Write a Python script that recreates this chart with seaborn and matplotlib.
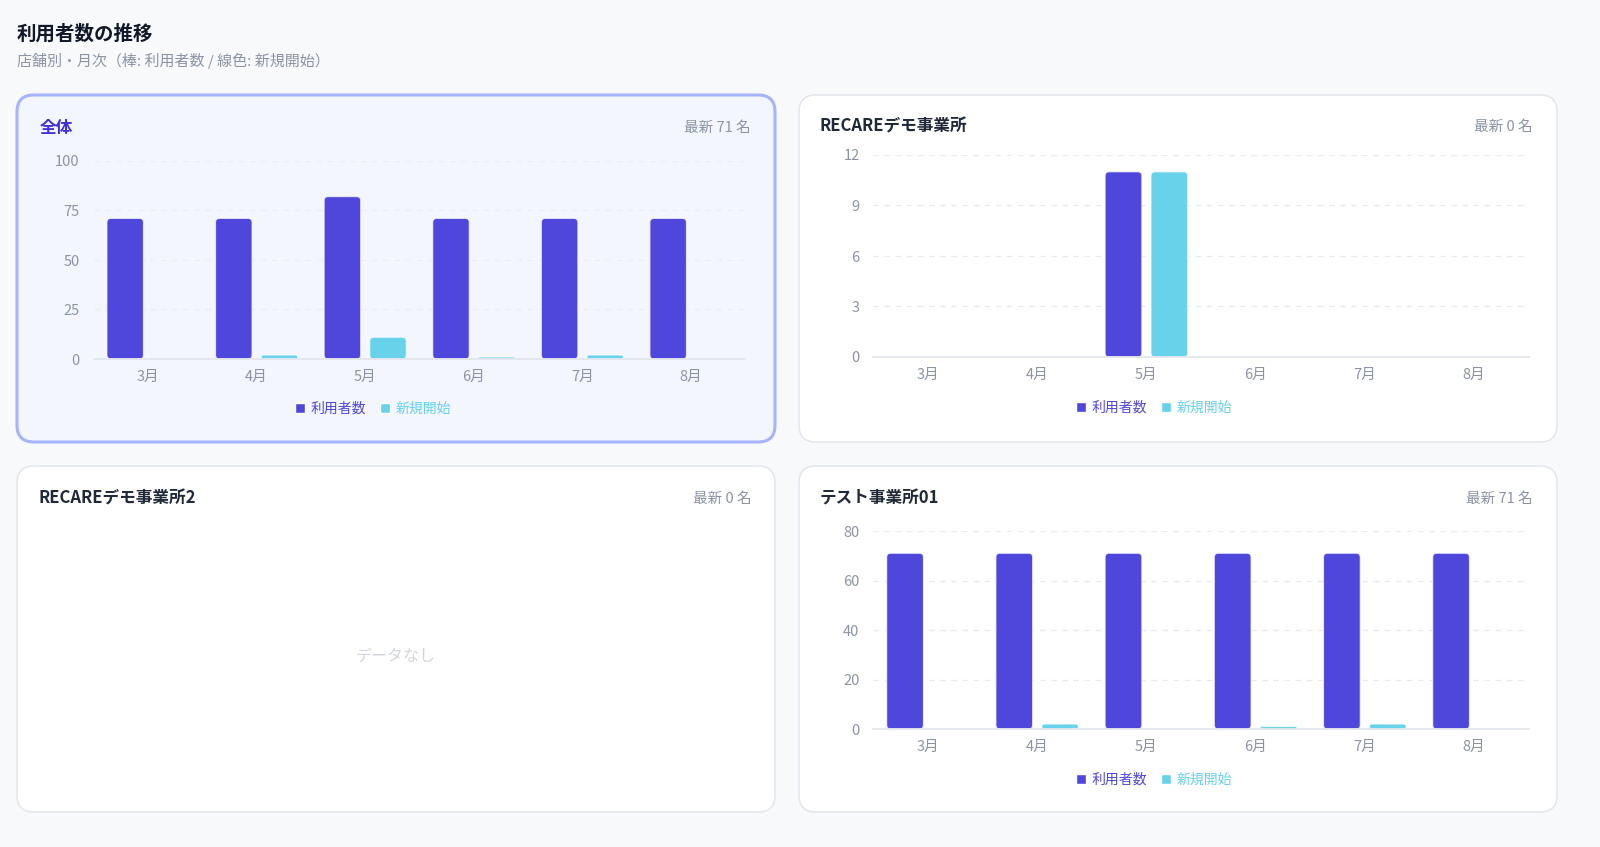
import matplotlib
matplotlib.use("Agg")
import matplotlib.pyplot as plt
from matplotlib.patches import FancyBboxPatch
import seaborn as sns
import pandas as pd

sns.set_theme(style="white")
plt.rcParams['font.family'] = ['Noto Sans CJK JP', 'DejaVu Sans']

# ---------------- data ----------------
months = ["3月", "4月", "5月", "6月", "7月", "8月"]
series_names = ["利用者数", "新規開始"]

total_users = [71, 71, 82, 71, 71, 71]
total_new = [0, 2, 11, 1, 2, 0]

demo_users = [0, 0, 11, 0, 0, 0]
demo_new = [0, 0, 11, 0, 0, 0]

test_users = [71, 71, 71, 71, 71, 71]
test_new = [0, 2, 0, 1, 2, 0]

total_ticks = [0, 25, 50, 75, 100]
demo_ticks = [0, 3, 6, 9, 12]
test_ticks = [0, 20, 40, 60, 80]

page_title = "利用者数の推移"
page_subtitle = "店舗別・月次（棒: 利用者数 / 線色: 新規開始）"
card_titles = ["全体", "RECAREデモ事業所", "RECAREデモ事業所2", "テスト事業所01"]
card_latest = ["最新 71 名", "最新 0 名", "最新 0 名", "最新 71 名"]
no_data_text = "データなし"

# ---------------- style ----------------
C_USERS = "#4f46dc"
C_NEW = "#67d2ea"
TICK_C = "#8b93a5"
GRID_C = "#e9ebf0"
GRID_C_SEL = "#eaeef9"
AXIS_C = "#e3e6ec"

W, H = 1600, 847
fig = plt.figure(figsize=(W / 100, H / 100), dpi=100)
fig.patch.set_facecolor("#f8f9fb")


def fx(x):
    return x / W


def fy(y):
    return 1 - y / H


def card(x0, y0, x1, y1, face, edge, lw):
    p = FancyBboxPatch((fx(x0), fy(y1)), fx(x1 - x0), (y1 - y0) / H,
                       boxstyle="round,pad=0,rounding_size=0.0105",
                       mutation_aspect=W / H,
                       transform=fig.transFigure, facecolor=face,
                       edgecolor=edge, linewidth=lw, zorder=-5)
    fig.patches.append(p)


# cards
card(17, 95, 775, 442, "#f3f6fe", "#a5b4fc", 2.2)
card(799, 95, 1557, 442, "#ffffff", "#e4e7ec", 1.2)
card(17, 466, 775, 812, "#ffffff", "#e4e7ec", 1.2)
card(799, 466, 1557, 812, "#ffffff", "#e4e7ec", 1.2)

# page title
fig.text(fx(17), fy(34), page_title, fontsize=14, fontweight="bold",
         color="#111827", va="center", ha="left")
fig.text(fx(17), fy(61), page_subtitle, fontsize=10.8,
         color="#8b93a5", va="center", ha="left")

# card titles
title_pos = [(40, 128), (820, 127), (39, 499), (820, 499)]
latest_pos = [(751, 128), (1533, 127), (752, 499), (1533, 499)]
for i in range(4):
    col = "#3f2fd4" if i == 0 else "#1f2937"
    fig.text(fx(title_pos[i][0]), fy(title_pos[i][1]), card_titles[i],
             fontsize=12, fontweight="bold", color=col, va="center", ha="left")
    fig.text(fx(latest_pos[i][0]), fy(latest_pos[i][1]), card_latest[i],
             fontsize=10.5, color="#8b93a5", va="center", ha="right")

fig.text(fx(396), fy(656), no_data_text, fontsize=11.5, color="#d1d5db",
         va="center", ha="center")


def make_df(users, new):
    rows = []
    for m, u, n in zip(months, users, new):
        rows.append({"month": m, "series": series_names[0], "value": u})
        rows.append({"month": m, "series": series_names[1], "value": n})
    return pd.DataFrame(rows)


def round_bars(ax, radius_px=4):
    fig.canvas.draw()
    bbox = ax.get_window_extent()
    x0, x1 = ax.get_xlim()
    y0, y1 = ax.get_ylim()
    xpp = (x1 - x0) / bbox.width
    ypp = (y1 - y0) / bbox.height
    aspect = ypp / xpp
    for p in list(ax.patches):
        x, y, w, h = p.get_x(), p.get_y(), p.get_width(), p.get_height()
        fc = p.get_facecolor()
        p.remove()
        if h <= 0:
            continue
        r = radius_px * xpp
        r = min(r, w / 2, (h / aspect) / 2)
        nb = FancyBboxPatch((x, y), w, h,
                            boxstyle=f"round,pad=0,rounding_size={r}",
                            mutation_aspect=aspect, facecolor=fc,
                            edgecolor=(1, 1, 1, 0.7), linewidth=0.8, zorder=3)
        ax.add_patch(nb)


def chart(rect_px, users, new, ticks, legend_center, grid_color):
    left, top, right, bottom = rect_px
    ax = fig.add_axes([fx(left), fy(bottom), fx(right - left), (bottom - top) / H])
    ax.set_zorder(1)
    ax.set_facecolor("none")
    df = make_df(users, new)
    sns.barplot(data=df, x="month", y="value", hue="series",
                palette=[C_USERS, C_NEW], width=0.84, gap=0.2,
                ax=ax, saturation=1, zorder=3)
    handles, labels = ax.get_legend_handles_labels()
    if ax.get_legend() is not None:
        ax.get_legend().remove()
    ax.set_xlim(-0.5, len(months) - 0.5)
    ax.set_ylim(0, ticks[-1])
    ax.set_yticks(ticks)
    ax.set_xlabel("")
    ax.set_ylabel("")
    for s in ["top", "right", "left"]:
        ax.spines[s].set_visible(False)
    ax.spines["bottom"].set_color(AXIS_C)
    ax.spines["bottom"].set_linewidth(1.3)
    ax.spines["bottom"].set_zorder(4)
    ax.tick_params(axis="both", length=0, colors=TICK_C, labelsize=10.5)
    ax.tick_params(axis="y", pad=10)
    ax.tick_params(axis="x", pad=8)
    ax.yaxis.grid(True, color=grid_color, linestyle=(0, (4, 4)), linewidth=1)
    ax.set_axisbelow(True)
    round_bars(ax)
    lx, ly = legend_center
    fig.legend(handles, labels, loc="center",
               bbox_to_anchor=(fx(lx), fy(ly)), ncol=2, frameon=False,
               labelcolor=[C_USERS, C_NEW], fontsize=10,
               handlelength=0.75, handleheight=0.75, handletextpad=0.4,
               columnspacing=1.0)
    return ax


chart((93.7, 161, 745.3, 359), total_users, total_new, total_ticks, (373, 409), GRID_C_SEL)
chart((873.4, 155, 1528.6, 357), demo_users, demo_new, demo_ticks, (1154, 408), GRID_C)
chart((873.4, 531, 1528.6, 729), test_users, test_new, test_ticks, (1154, 780), GRID_C)

fig.savefig("out.png", dpi=100, facecolor=fig.get_facecolor())
